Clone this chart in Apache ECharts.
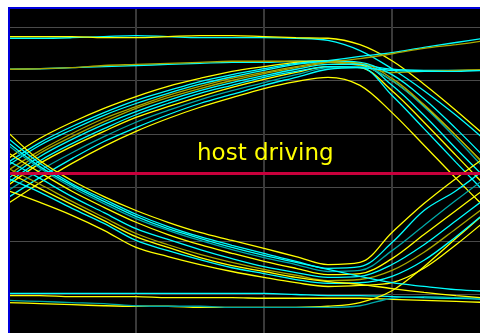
<!DOCTYPE html>
<html>
<head>
<meta charset="utf-8">
<script src="https://cdn.jsdelivr.net/npm/echarts@6/dist/echarts.min.js"></script>
<style>
  html, body { margin: 0; padding: 0; background: #ffffff; }
  #chart { width: 480px; height: 333px; }
</style>
</head>
<body>
<div id="chart"></div>
<script>
// Sample times (ps) shared by every captured trace
const time = [0, 25, 50, 75, 100, 125, 150, 175, 200, 225, 250, 275, 300, 325, 350, 375];

// Receiver threshold level (mV)
const threshold = 326;

// 0 -> 1 -> 0 transitions
const rf1 = [354, 392, 422, 448, 470, 489, 504, 517, 526, 534, 537, 530, 500, 453, 397, 336];
const rf2 = [347, 384, 414, 440, 463, 481, 498, 511, 522, 532, 536, 534, 511, 466, 410, 350];
const rf3 = [332, 369, 401, 429, 451, 472, 489, 504, 515, 526, 534, 532, 504, 455, 397, 336];
const rf4 = [317, 358, 390, 418, 442, 463, 481, 496, 509, 521, 530, 530, 491, 435, 373, 313];
const rf5 = [304, 345, 377, 405, 431, 451, 470, 487, 502, 515, 526, 524, 481, 422, 360, 298];
const rf6 = [294, 332, 365, 395, 422, 444, 464, 481, 496, 511, 524, 526, 500, 451, 392, 328];
const rf7 = [281, 319, 354, 386, 412, 436, 457, 474, 491, 506, 521, 524, 472, 410, 347, 285];
const rf8 = [270, 309, 345, 377, 405, 429, 450, 468, 485, 498, 506, 491, 440, 379, 317, 257];

// 0 -> 1 -> 1 transitions
const rh1 = [341, 379, 408, 435, 457, 476, 493, 507, 519, 530, 537, 545, 552, 562, 571, 580];
const rh2 = [322, 364, 395, 423, 448, 468, 485, 500, 513, 524, 534, 541, 550, 560, 567, 575];
const rh3 = [309, 350, 382, 410, 436, 457, 476, 491, 506, 517, 526, 524, 519, 517, 517, 519];

// 1 -> 0 -> 1 transitions
const fr1 = [403, 350, 313, 283, 257, 235, 216, 201, 186, 171, 156, 160, 216, 270, 317, 360];
const fr2 = [392, 345, 307, 278, 250, 227, 208, 192, 177, 162, 149, 152, 197, 257, 294, 339];
const fr3 = [379, 336, 300, 270, 242, 220, 201, 184, 169, 156, 143, 145, 182, 229, 276, 321];
const fr4 = [365, 328, 293, 263, 235, 212, 193, 177, 162, 149, 137, 139, 167, 212, 257, 302];
const fr5 = [350, 317, 283, 253, 223, 203, 184, 167, 152, 141, 132, 134, 156, 193, 238, 283];
const fr6 = [336, 306, 274, 244, 214, 193, 175, 160, 147, 136, 126, 128, 145, 179, 223, 268];
const fr7 = [317, 291, 261, 233, 201, 182, 165, 150, 139, 128, 121, 122, 134, 164, 208, 257];
const fr8 = [294, 272, 248, 220, 188, 171, 156, 143, 132, 122, 115, 117, 122, 149, 193, 242];

// 1 -> 0 -> 0 transitions
const fl1 = [384, 339, 304, 274, 246, 223, 205, 188, 173, 160, 147, 134, 122, 115, 109, 106];
const fl2 = [328, 298, 268, 238, 208, 188, 169, 154, 143, 132, 124, 119, 111, 104, 98, 93];

// steady high levels
const hi1 = [579, 579, 580, 582, 584, 582, 580, 580, 580, 579, 575, 556, 522, 481, 435, 384];
const hi2 = [582, 582, 582, 580, 580, 582, 584, 584, 582, 580, 579, 567, 537, 493, 444, 392];
const hi3 = [521, 522, 524, 526, 528, 530, 532, 534, 534, 536, 536, 530, 521, 519, 519, 519];
const hi4 = [521, 522, 524, 528, 530, 532, 534, 536, 536, 536, 534, 528, 515, 517, 519, 521];

// steady low levels
const lo1 = [102, 102, 102, 102, 102, 102, 102, 102, 102, 100, 98, 98, 96, 94, 93, 91];
const lo2 = [98, 98, 96, 96, 96, 94, 94, 94, 93, 93, 93, 93, 91, 89, 87, 85];
const lo3 = [85, 83, 81, 79, 78, 78, 76, 76, 76, 76, 78, 85, 107, 152, 205, 257];
const lo4 = [89, 87, 85, 83, 79, 78, 78, 76, 76, 76, 76, 79, 93, 96, 94, 93];

const YEL = '#ffff00', CYN = '#00ffff', OLV = '#a8a800', TEA = '#00a8a8';

const traces = [
  [hi1, CYN], [hi2, YEL], [hi3, CYN], [hi4, OLV],
  [lo1, CYN], [lo2, YEL], [lo3, YEL], [lo4, TEA],
  [rf1, YEL], [rf2, CYN], [rf3, OLV], [rf4, CYN],
  [rf5, YEL], [rf6, TEA], [rf7, CYN], [rf8, YEL],
  [rh1, CYN], [rh2, OLV], [rh3, CYN],
  [fr1, YEL], [fr2, CYN], [fr3, TEA], [fr4, YEL],
  [fr5, CYN], [fr6, OLV], [fr7, CYN], [fr8, YEL],
  [fl1, CYN], [fl2, YEL]
];

const series = traces.map(([vals, color]) => ({
  type: 'line',
  data: time.map((t, i) => [t, vals[i]]),
  showSymbol: false,
  smooth: 0.35,
  lineStyle: { color: color, width: 1.3 },
  silent: true,
  z: 2
}));

series.push({
  type: 'line',
  data: [],
  z: 5,
  markLine: {
    silent: true,
    symbol: 'none',
    label: { show: false },
    lineStyle: { color: '#c8003c', width: 3, type: 'solid' },
    data: [{ yAxis: threshold }]
  }
});

const chart = echarts.init(document.getElementById('chart'), null, { renderer: 'canvas' });
chart.setOption({
  backgroundColor: '#000000',
  animation: false,
  grid: { left: 8, top: -26.5, width: 512, height: 374.5, outerBoundsMode: 'none', containLabel: false },
  xAxis: {
    type: 'value', min: 0, max: 400, interval: 100,
    axisLine: { show: false }, axisTick: { show: false }, axisLabel: { show: false },
    splitLine: { show: true, lineStyle: { color: '#3a3a3a', width: 2 } }
  },
  yAxis: {
    type: 'value', min: 0, max: 700, interval: 100,
    axisLine: { show: false }, axisTick: { show: false }, axisLabel: { show: false },
    splitLine: { show: true, lineStyle: { color: '#4a4a4a', width: 1 } }
  },
  series: series,
  graphic: [
    { type: 'rect', z: 100, shape: { x: 0, y: 0, width: 480, height: 7 }, style: { fill: '#ffffff' } },
    { type: 'rect', z: 100, shape: { x: 0, y: 0, width: 8, height: 333 }, style: { fill: '#ffffff' } },
    { type: 'rect', z: 101, shape: { x: 8, y: 7, width: 472, height: 2 }, style: { fill: '#0000dc' } },
    { type: 'rect', z: 101, shape: { x: 8, y: 7, width: 2, height: 326 }, style: { fill: '#0000dc' } },
    {
      type: 'text', z: 110, left: 197, top: 143,
      style: { text: 'host driving', fill: '#ffff00', font: '23px "DejaVu Sans"' }
    }
  ]
});
</script>
</body>
</html>
